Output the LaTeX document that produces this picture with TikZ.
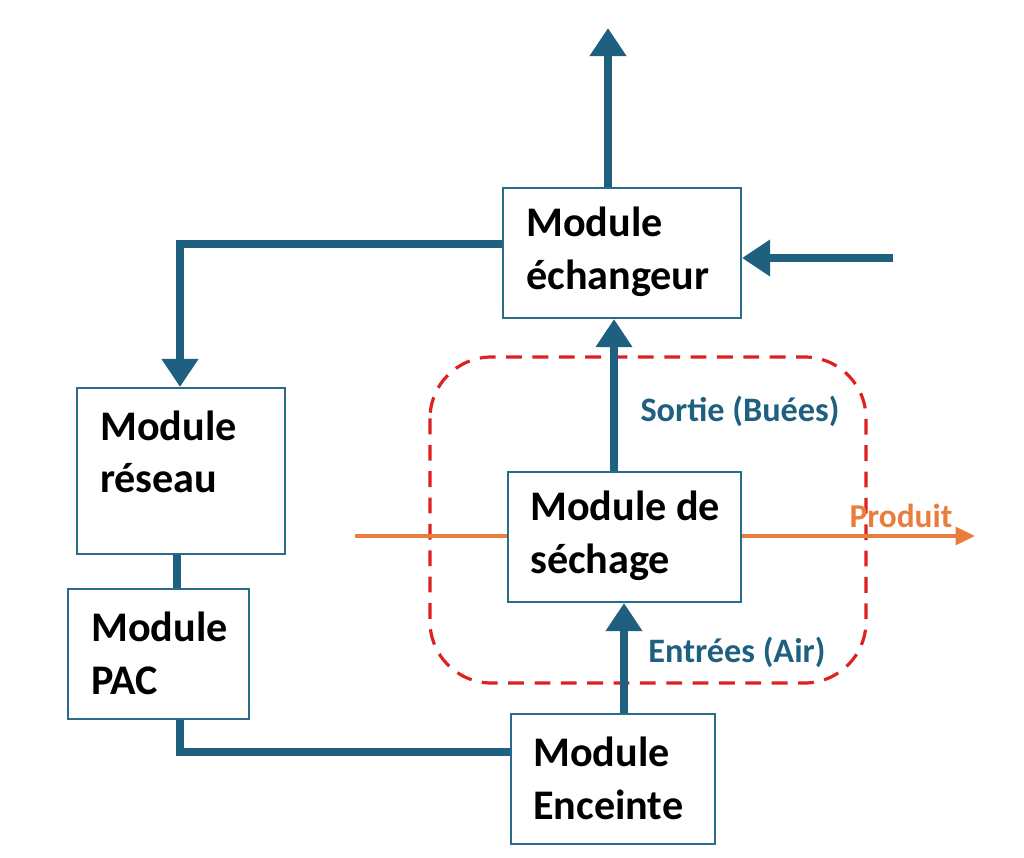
\documentclass[tikz,border=0pt]{standalone}
\usepackage{fontspec}
\setmainfont{Carlito}
\usetikzlibrary{arrows.meta}
\definecolor{pipe}{HTML}{1F5F80}
\definecolor{boxline}{HTML}{2A6B8A}
\definecolor{prod}{HTML}{E87D3E}
\definecolor{dashred}{HTML}{E02020}
\begin{document}
\begin{tikzpicture}[x=0.02cm,y=-0.02cm,
  flow/.style={draw=pipe,line width=5pt},
  flowarrow/.style={flow,-{Triangle[length=16pt,width=20pt]}},
  lbl/.style={font=\fontsize{19.5}{22}\selectfont\bfseries,text=pipe},
  mbox/.style={draw=boxline,line width=1.2pt,fill=white,minimum height=2.6cm,anchor=north west}]
\useasboundingbox (0,0) rectangle (1024,858);
\draw[draw=dashred,line width=1.8pt,dash pattern=on 9pt off 6pt,rounded corners=35pt] (430,357) rectangle (866,683);
\coordinate (pl) at (355,536);
\coordinate (pr) at (975,536);
\draw[prod,line width=2.2pt,-{Triangle[length=11pt,width=10pt]}] (pl) -- (pr);
\node[mbox,minimum width=4.76cm] (ech) at (502,187) {};
\node[mbox,minimum width=4.16cm,minimum height=3.32cm] (res) at (76,387) {};
\node[mbox,minimum width=3.62cm] (pac) at (67,588) {};
\node[mbox,minimum width=4.66cm] (sec) at (507,471) {};
\node[mbox,minimum width=4.08cm] (enc) at (510,713) {};
\tikzset{txt/.style={font=\fontsize{24}{30}\selectfont\bfseries,align=left,anchor=west}}
\node[txt] (tech) at (520,252) {Module\\échangeur};
\node[txt] (tres) at (94,452) {Module\\réseau};
\node[txt] (tpac) at (85,653) {Module\\PAC};
\node[txt] (tsec) at (524,536) {Module de\\séchage};
\node[txt] (tenc) at (527,778) {Module\\Enceinte};
\node[lbl,anchor=center] (lsor) at (740,411) {Sortie (Buées)};
\node[lbl,anchor=center] (lent) at (737,652) {Entrées (Air)};
\node[font=\fontsize{19}{22}\selectfont\bfseries,text=prod] (lprod) at (901,516) {Produit};
\coordinate (top) at (608,28);
\coordinate (rin) at (893,258);
\coordinate (corner) at (180,244);
\draw[flowarrow] (ech.north -| top) -- (top);
\draw[flowarrow] (rin) -- (ech.east |- rin);
\draw[flowarrow,line join=miter] (ech.west |- corner) -- (corner) -- (res.north -| corner);
\draw[flowarrow] (sec.north -| 614,0) -- (ech.south -| 614,0);
\draw[flowarrow] (enc.north -| 624,0) -- (sec.south -| 624,0);
\draw[flow] (res.south -| 177,0) -- (pac.north -| 177,0);
\draw[flow,line join=miter] (pac.south -| 180,0) -- (180,752) -- (enc.west |- 0,752);
\end{tikzpicture}
\end{document}
